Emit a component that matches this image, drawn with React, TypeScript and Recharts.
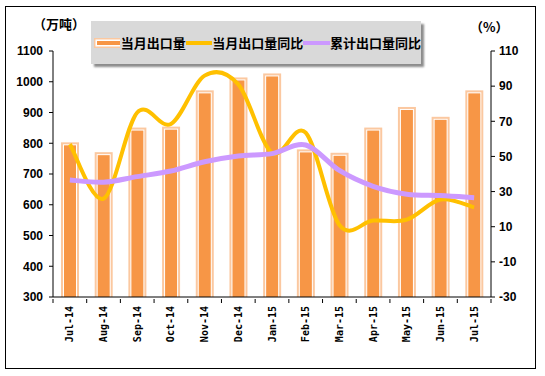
import React from "react";
import { Bar, ComposedChart, Line, XAxis, YAxis } from "recharts";

const months = [
  "Jul-14", "Aug-14", "Sep-14", "Oct-14", "Nov-14", "Dec-14", "Jan-15",
  "Feb-15", "Mar-15", "Apr-15", "May-15", "Jun-15", "Jul-15",
];
// 当月出口量 (万吨)
const exportVolume = [803, 771, 851, 854, 972, 1014, 1027, 780, 769, 851, 918, 886, 972];
// 当月出口量同比 (%)
const monthlyYoY = [57, 26, 75, 68.5, 96, 91, 52, 63.5, 11, 13.5, 14, 25.5, 21];
// 累计出口量同比 (%)
const cumulativeYoY = [36.6, 35.3, 38.5, 41.7, 47, 50.3, 51.6, 56.5, 42, 33, 28.5, 27.7, 26.5];

const leftTicks = [300, 400, 500, 600, 700, 800, 900, 1000, 1100];
const rightTicks = [-30, -10, 10, 30, 50, 70, 90, 110];

const data = months.map((m, i) => ({
  month: m,
  volume: exportVolume[i],
  monthly: monthlyYoY[i],
  cumulative: cumulativeYoY[i],
}));

const ORANGE = "#f79646";
const ORANGE_LIGHT = "#fbc8a0";
const YELLOW = "#ffc000";
const PURPLE = "#cc99ff";
const BAND = 438 / months.length;

// Excel-like smoothed line (Catmull-Rom style bezier)
const excelSmooth = (context: any) => {
  let pts: [number, number][] = [];
  return {
    areaStart() {},
    areaEnd() {},
    lineStart() {
      pts = [];
    },
    lineEnd() {
      if (!pts.length) return;
      context.moveTo(pts[0][0], pts[0][1]);
      for (let i = 0; i < pts.length - 1; i++) {
        const p0 = pts[Math.max(i - 1, 0)];
        const p1 = pts[i];
        const p2 = pts[i + 1];
        const p3 = pts[Math.min(i + 2, pts.length - 1)];
        context.bezierCurveTo(
          p1[0] + (p2[0] - p0[0]) / 6,
          p1[1] + (p2[1] - p0[1]) / 6,
          p2[0] - (p3[0] - p1[0]) / 6,
          p2[1] - (p3[1] - p1[1]) / 6,
          p2[0],
          p2[1]
        );
      }
    },
    point(x: number, y: number) {
      pts.push([x, y]);
    },
  };
};

const BarShape = (props: any) => {
  const { x, y, width, height } = props;
  return (
    <g>
      <rect x={x} y={y} width={width} height={height} fill={ORANGE_LIGHT} />
      <rect x={x + 2} y={y + 2} width={width - 4} height={height - 2} fill="#fff" />
      <rect x={x + 3} y={y + 3} width={width - 6} height={height - 3} fill={ORANGE} />
    </g>
  );
};

const MonthTick = (props: any) => {
  const { x, y, payload, index } = props;
  return (
    <g>
      <line x1={x - BAND / 2} y1={y - 6} x2={x - BAND / 2} y2={y - 2} stroke="#000" />
      {index === months.length - 1 && (
        <line x1={x + BAND / 2} y1={y - 6} x2={x + BAND / 2} y2={y - 2} stroke="#000" />
      )}
      <text
        x={0}
        y={0}
        transform={`translate(${x}, ${y + 1}) rotate(-90)`}
        textAnchor="end"
        dominantBaseline="central"
        fontFamily="DejaVu Sans Mono"
        fontWeight="bold"
        fontSize={10}
        fill="#000"
      >
        {payload.value}
      </text>
    </g>
  );
};

const tickStyle = {
  fill: "#000",
  fontSize: 12,
  fontWeight: "bold" as const,
  fontFamily: "Liberation Sans",
};

const legendText: React.CSSProperties = {
  fontFamily: "Noto Sans CJK SC",
  fontWeight: "bold",
  fontSize: 13,
  color: "#000",
  whiteSpace: "nowrap",
};

export default function App() {
  return (
    <div style={{ position: "absolute", left: 0, top: 0, width: 545, height: 376, background: "#fff" }}>
      <div
        style={{
          position: "absolute",
          left: 5,
          top: 6,
          width: 529,
          height: 361,
          border: "1px solid #000",
        }}
      />
      <ComposedChart
        width={545}
        height={376}
        data={data}
        margin={{ top: 51, right: 0, bottom: 0, left: 0 }}
        style={{ position: "absolute", left: 0, top: 0 }}
      >
        <XAxis
          dataKey="month"
          height={79}
          axisLine={{ stroke: "#000" }}
          tickLine={false}
          interval={0}
          tick={<MonthTick />}
        />
        <YAxis
          yAxisId="left"
          width={53}
          domain={[300, 1100]}
          ticks={leftTicks}
          axisLine={{ stroke: "#000" }}
          tickLine={{ stroke: "#000" }}
          tickSize={4}
          tickMargin={6}
          tick={tickStyle}
        />
        <YAxis
          yAxisId="right"
          orientation="right"
          width={54}
          domain={[-30, 110]}
          ticks={rightTicks}
          axisLine={{ stroke: "#000" }}
          tickLine={{ stroke: "#000" }}
          tickSize={4}
          tickMargin={4}
          tick={{ ...tickStyle, textAnchor: "start" }}
        />
        <Bar
          yAxisId="left"
          dataKey="volume"
          barSize={18}
          shape={<BarShape />}
          isAnimationActive={false}
        />
        <Line
          yAxisId="right"
          dataKey="monthly"
          type={excelSmooth as any}
          stroke={YELLOW}
          strokeWidth={4}
          dot={false}
          activeDot={false}
          isAnimationActive={false}
        />
        <Line
          yAxisId="right"
          dataKey="cumulative"
          type={excelSmooth as any}
          stroke={PURPLE}
          strokeWidth={5}
          dot={false}
          activeDot={false}
          isAnimationActive={false}
        />
      </ComposedChart>

      <div style={{ ...legendText, position: "absolute", left: 33, top: 14 }}>（万吨）</div>
      <div style={{ ...legendText, position: "absolute", left: 470, top: 17 }}>（%）</div>

      <div
        style={{
          position: "absolute",
          left: 91,
          top: 21,
          width: 330,
          height: 43,
          background: "#d9d9d9",
          boxShadow: "3px 3px 2px #8c8c8c",
          display: "flex",
          alignItems: "center",
          paddingLeft: 3,
          boxSizing: "border-box",
        }}
      >
        <svg width={29} height={10} style={{ marginRight: 1 }}>
          <rect x={0} y={0} width={29} height={10} fill={ORANGE_LIGHT} />
          <rect x={1.5} y={1.5} width={26} height={7} fill="#fff" />
          <rect x={3} y={3} width={23} height={4} fill={ORANGE} />
        </svg>
        <span style={legendText}>当月出口量</span>
        <svg width={30} height={10}>
          <line x1={0} y1={5} x2={30} y2={5} stroke={YELLOW} strokeWidth={4} />
        </svg>
        <span style={legendText}>当月出口量同比</span>
        <svg width={30} height={10}>
          <line x1={0} y1={5} x2={30} y2={5} stroke={PURPLE} strokeWidth={4} />
        </svg>
        <span style={legendText}>累计出口量同比</span>
      </div>
    </div>
  );
}
